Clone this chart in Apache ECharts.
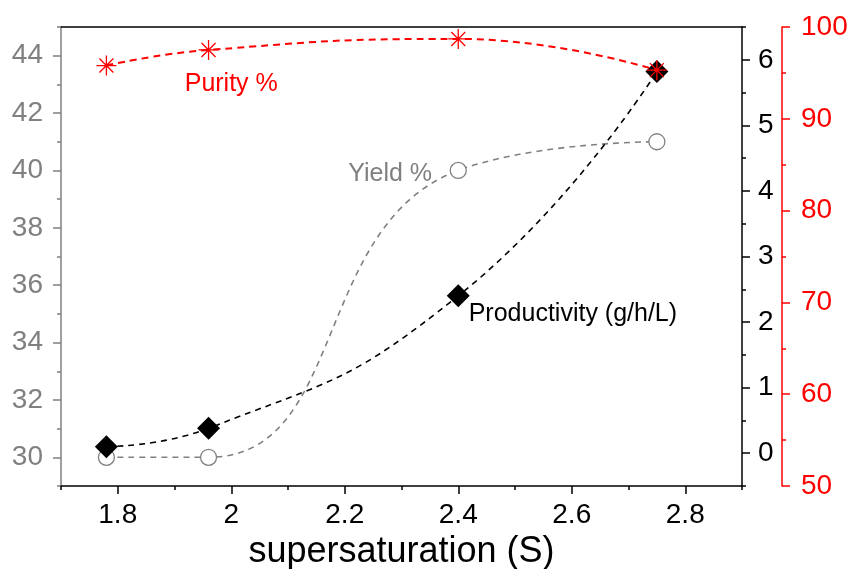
<!DOCTYPE html>
<html>
<head>
<meta charset="utf-8">
<script src="https://cdn.jsdelivr.net/npm/echarts@6/dist/echarts.min.js"></script>
<style>
html,body{margin:0;padding:0;background:#fff;}
#chart{width:848px;height:569px;}
</style>
</head>
<body>
<div id="chart"></div>
<script>
// ---- data ----
const supersaturation = [1.78, 1.96, 2.4, 2.75];
const purityPct = [95.8, 97.5, 98.7, 95.3];
const yieldPct = [30, 30, 40, 41];
const productivity = [0.1, 0.38, 2.4, 5.82];

// ---- tick labels ----
const xMajorTicks = [1.8, 2.0, 2.2, 2.4, 2.6, 2.8];
const xMinorTicks = [1.7, 1.9, 2.1, 2.3, 2.5, 2.7, 2.9];
const yieldMajorTicks = [30, 32, 34, 36, 38, 40, 42, 44];
const yieldMinorTicks = [29, 31, 33, 35, 37, 39, 41, 43, 45];
const prodMajorTicks = [0, 1, 2, 3, 4, 5, 6];
const prodMinorTicks = [-0.5, 0.5, 1.5, 2.5, 3.5, 4.5, 5.5, 6.5];
const purityMajorTicks = [50, 60, 70, 80, 90, 100];
const purityMinorTicks = [55, 65, 75, 85, 95];

// ---- annotation text (anchor in data units) ----
const annotations = [
  { text: 'Purity %', x: 2.0, y: 93.8, axis: 4, color: '#ff0000' },
  { text: 'Yield %', x: 2.28, y: 39.88, axis: 0, color: '#808080' },
  { text: 'Productivity (g/h/L)', x: 2.602, y: 2.115, axis: 2, color: '#000000' }
];

const FONT = '"Liberation Sans", Arial, sans-serif';
const GRAY = '#808080';
const RED = '#ff0000';

function zip(xs, ys) { return xs.map((x, i) => [x, ys[i]]); }

function labelY(min, max, color, major, position, offset, margin) {
  return {
    type: 'value', position: position, offset: offset, min: min, max: max,
    axisLine: { show: true, onZero: false, lineStyle: { color: color, width: 1.5 } },
    axisTick: { show: false },
    axisLabel: { show: true, customValues: major, color: color, fontSize: 28, fontFamily: FONT, margin: margin },
    splitLine: { show: false }
  };
}
function tickY(min, max, color, values, position, offset, len) {
  return {
    type: 'value', position: position, offset: offset, min: min, max: max,
    axisLine: { show: false, onZero: false },
    axisTick: { show: true, inside: false, length: len, customValues: values, lineStyle: { color: color, width: 1.5 } },
    axisLabel: { show: false },
    splitLine: { show: false }
  };
}
function tickX(values, len) {
  return {
    type: 'value', position: 'bottom', min: 1.7, max: 2.9,
    axisLine: { show: false, onZero: false },
    axisTick: { show: true, inside: false, length: len, customValues: values, lineStyle: { color: '#000', width: 1.5 } },
    axisLabel: { show: false },
    splitLine: { show: false }
  };
}

const chart = echarts.init(document.getElementById('chart'), null, { renderer: 'canvas' });

const option = {
  animation: false,
  backgroundColor: '#ffffff',
  grid: { left: 61, right: 106, top: 27, bottom: 83, containLabel: false, outerBoundsMode: 'none' },
  xAxis: [
    {
      type: 'value', position: 'bottom', min: 1.7, max: 2.9,
      name: 'supersaturation (S)', nameLocation: 'middle', nameGap: 44,
      nameTextStyle: { color: '#000', fontSize: 36, fontFamily: FONT },
      axisLine: { show: true, onZero: false, lineStyle: { color: '#000', width: 1.5 } },
      axisTick: { show: false },
      axisLabel: { show: true, customValues: xMajorTicks, color: '#000', fontSize: 28, fontFamily: FONT, margin: 15 },
      splitLine: { show: false }
    },
    tickX(xMajorTicks, 8),
    tickX(xMinorTicks, 4),
    {
      type: 'value', position: 'top', min: 1.7, max: 2.9,
      axisLine: { show: true, onZero: false, lineStyle: { color: '#000', width: 1.5 } },
      axisTick: { show: false }, axisLabel: { show: false }, splitLine: { show: false }
    }
  ],
  yAxis: [
    labelY(29, 45, GRAY, yieldMajorTicks, 'left', 0, 18),
    tickY(29, 45, GRAY, yieldMajorTicks, 'left', 0, 8),
    labelY(-0.5, 6.5, '#000', prodMajorTicks, 'right', 0, 16),
    tickY(-0.5, 6.5, '#000', prodMajorTicks, 'right', 0, 8),
    labelY(50, 100, RED, purityMajorTicks, 'right', 40, 19),
    tickY(50, 100, RED, purityMajorTicks, 'right', 40, 8),
    tickY(29, 45, GRAY, yieldMinorTicks, 'left', 0, 4),
    tickY(-0.5, 6.5, '#000', prodMinorTicks, 'right', 0, 4),
    tickY(50, 100, RED, purityMinorTicks, 'right', 40, 4)
  ],
  series: [
    {
      name: 'Yield %', type: 'line', xAxisIndex: 0, yAxisIndex: 0,
      data: zip(supersaturation, yieldPct), smooth: 0.5,
      symbol: 'circle', symbolSize: 16, showAllSymbol: true,
      itemStyle: { color: '#ffffff', borderColor: GRAY, borderWidth: 1.3 },
      lineStyle: { color: GRAY, width: 1.6, type: [6, 5] },
      z: 2
    },
    {
      name: 'Productivity', type: 'line', xAxisIndex: 0, yAxisIndex: 2,
      data: zip(supersaturation, productivity), smooth: 0.5,
      symbol: 'diamond', symbolSize: 23, showAllSymbol: true,
      itemStyle: { color: '#000000', borderWidth: 0 },
      lineStyle: { color: '#000000', width: 1.6, type: [6, 5] },
      z: 3
    },
    {
      name: 'Purity %', type: 'line', xAxisIndex: 0, yAxisIndex: 4,
      data: zip(supersaturation, purityPct), smooth: 0.5,
      symbol: 'path://M10,0L10,20M0,10L20,10M3,3L17,17M3,17L17,3', symbolSize: 20, showAllSymbol: true,
      itemStyle: { color: 'rgba(0,0,0,0)', borderColor: RED, borderWidth: 1.3 },
      lineStyle: { color: RED, width: 2, type: [7, 5] },
      z: 4
    }
  ]
};

chart.setOption(option);

const graphics = annotations.map(a => {
  const p = chart.convertToPixel({ xAxisIndex: 0, yAxisIndex: a.axis }, [a.x, a.y]);
  return {
    type: 'text', x: p[0], y: p[1], z: 10,
    style: { text: a.text, fill: a.color, font: '25px ' + FONT, align: 'center', verticalAlign: 'middle' }
  };
});
chart.setOption({ graphic: graphics });
</script>
</body>
</html>
